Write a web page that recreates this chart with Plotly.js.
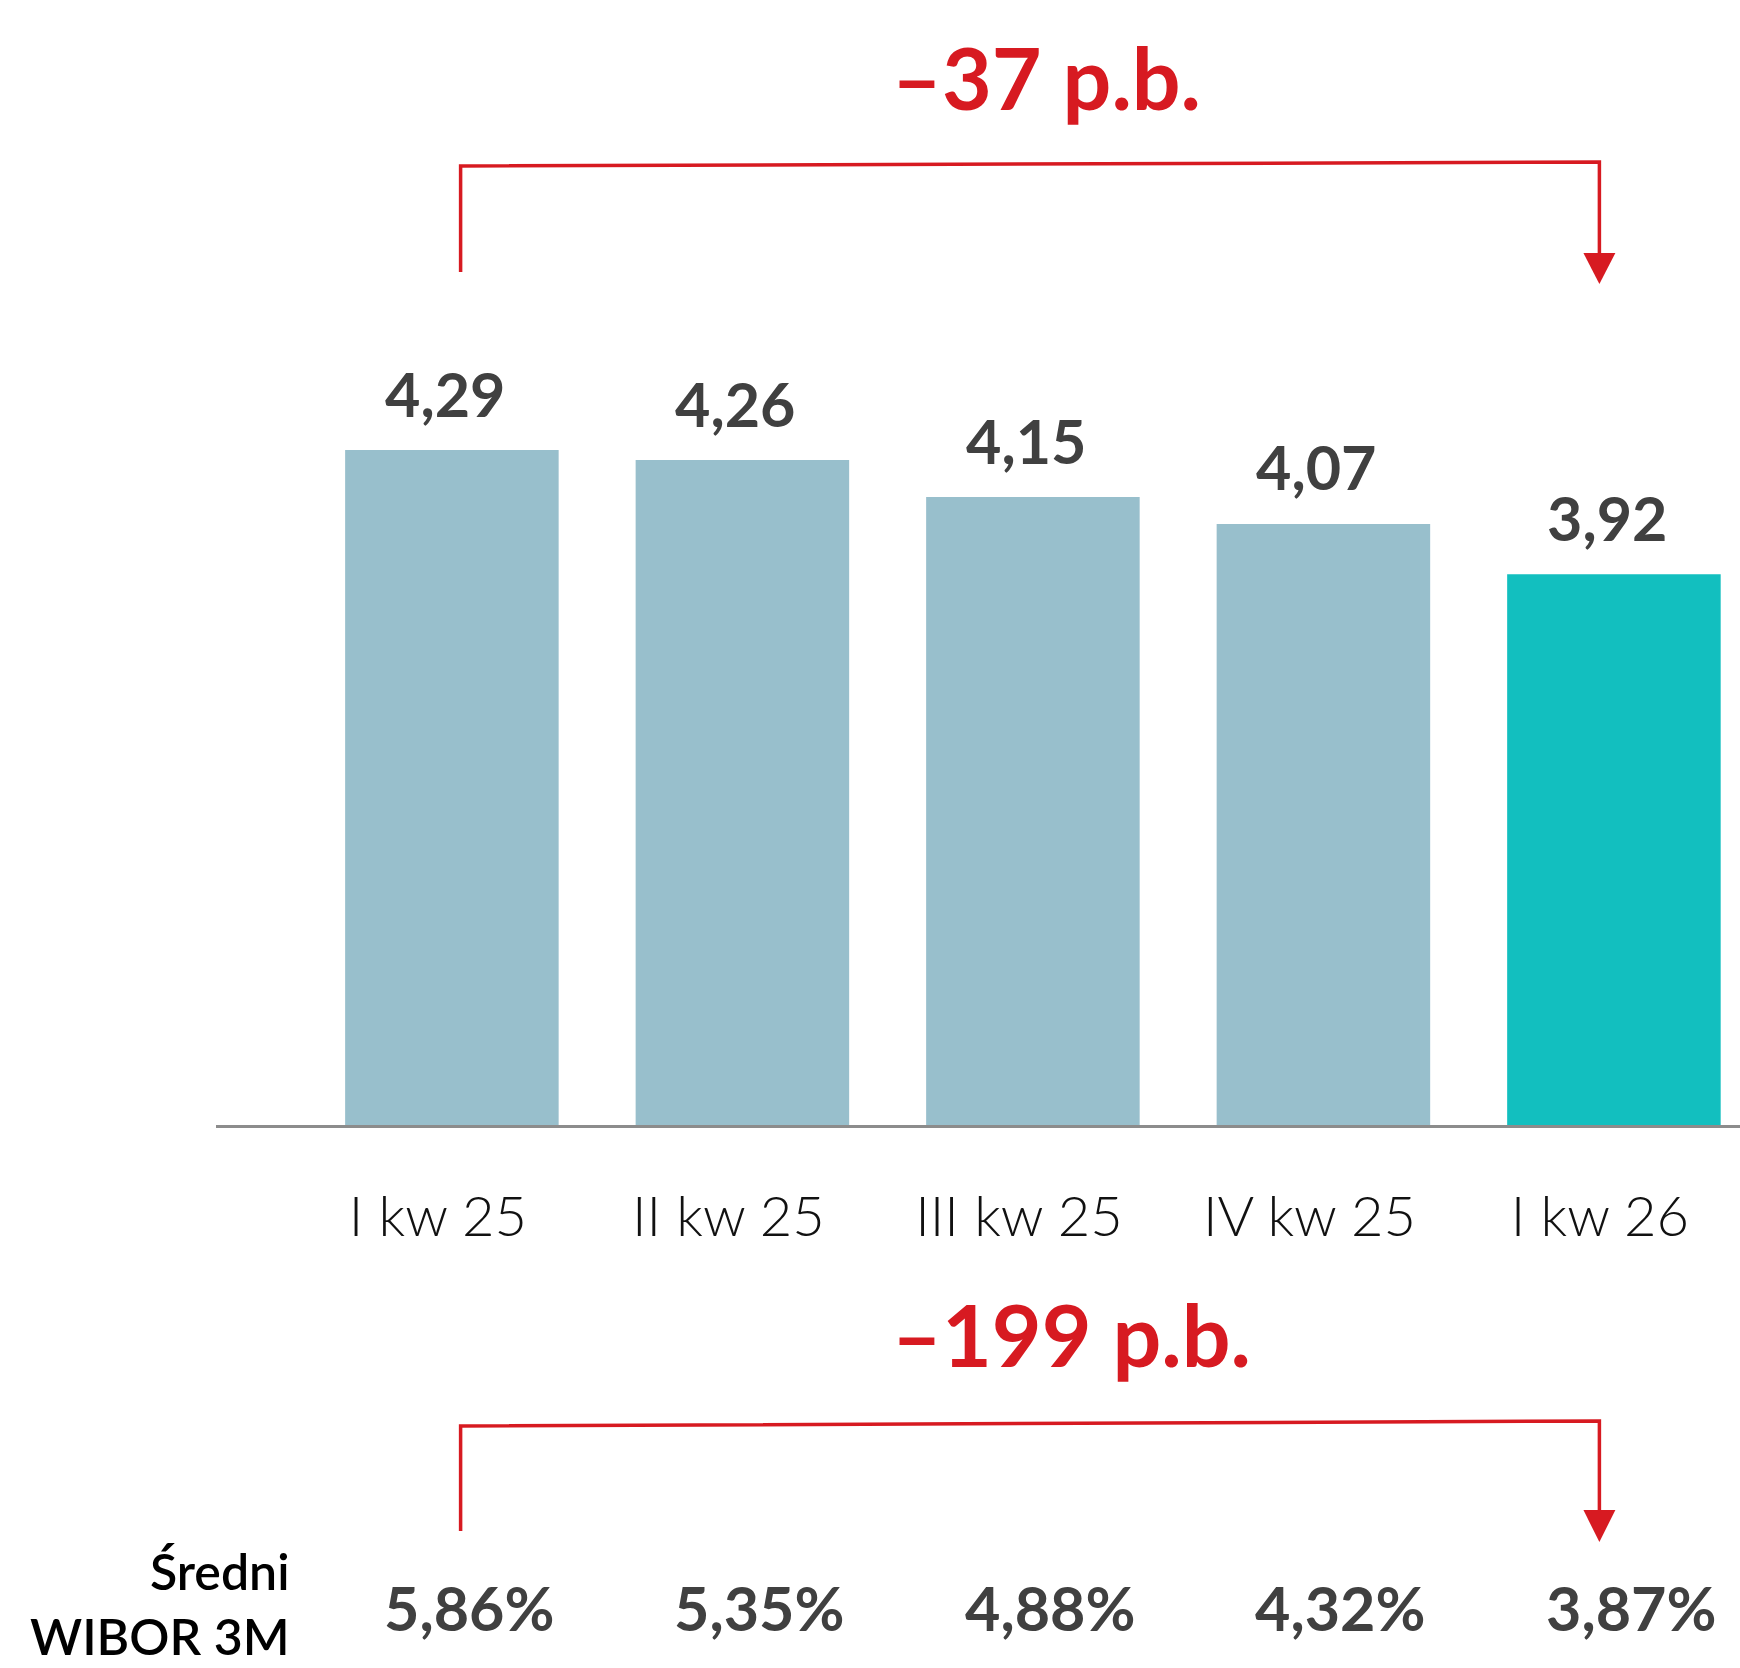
<!DOCTYPE html>
<html>
<head>
<meta charset="utf-8">
<script src="https://cdn.plot.ly/plotly-3.0.1.min.js"></script>
<style>html,body{margin:0;padding:0;background:#fff;}#chart{width:1740px;height:1668px;}</style>
</head>
<body>
<div id="chart"></div>
<script>
// ---- data ----
const categories = ['I kw 25', 'II kw 25', 'III kw 25', 'IV kw 25', 'I kw 26'];
const values = [4.29, 4.26, 4.15, 4.07, 3.92];
const wibor3m = [5.86, 5.35, 4.88, 4.32, 3.87];
const rowLabel = 'Średni<br>WIBOR 3M';
const changeTop = '–37 p.b.';
const changeBottom = '–199 p.b.';

// ---- styling ----
const W = 1740, H = 1668;
const M = {l: 216, r: 0, t: 0, b: 543};
const plotH = H - M.t - M.b;
const xr = [-0.812, 4.434];
const yr = [2.28, 5.63];
const RED = '#D71A21';
const GREY = '#404040';
const barColors = categories.map((c, i) => i === categories.length - 1 ? '#12BFBF' : '#98BFCC');
const fmt = v => v.toFixed(2).replace('.', ',');
const px2py = p => (plotH + M.t - p) / plotH;          // pixel row -> paper y
const px2pxp = p => (p - M.l) / (W - M.l - M.r);       // pixel column -> paper x
const cat2px = i => (i - xr[0]) / (xr[1] - xr[0]);     // category index -> paper x

const trace = {
  type: 'bar',
  x: categories,
  y: values,
  width: 0.735,
  marker: {color: barColors, line: {width: 0}},
  hoverinfo: 'skip'
};

const annotations = [];
values.forEach((v, i) => {
  annotations.push({
    x: categories[i], y: v, xref: 'x', yref: 'y',
    text: fmt(v), showarrow: false, yanchor: 'middle', yshift: 57, xshift: -7,
    font: {family: 'Lato, sans-serif', size: 61, weight: 700, color: GREY}
  });
});
wibor3m.forEach((v, i) => {
  annotations.push({
    x: categories[i], y: px2py(1607), xref: 'x', yref: 'paper',
    text: fmt(v) + '%', showarrow: false, yanchor: 'middle', xshift: 17,
    font: {family: 'Lato, sans-serif', size: 61, weight: 700, color: GREY}
  });
});
annotations.push({
  x: px2pxp(292), y: px2py(1603), xref: 'paper', yref: 'paper',
  xanchor: 'right', yanchor: 'middle', align: 'right', text: rowLabel, showarrow: false,
  font: {family: 'Lato, sans-serif', size: 50, weight: 600, color: '#000'}
});
annotations.push({
  x: px2pxp(890), y: px2py(76), xref: 'paper', yref: 'paper',
  xanchor: 'left', yanchor: 'middle', text: changeTop, showarrow: false,
  font: {family: 'Lato, sans-serif', size: 86, weight: 700, color: RED}
});
annotations.push({
  x: px2pxp(890), y: px2py(1333), xref: 'paper', yref: 'paper',
  xanchor: 'left', yanchor: 'middle', text: changeBottom, showarrow: false,
  font: {family: 'Lato, sans-serif', size: 86, weight: 700, color: RED}
});

function bracket(yBottomLeft, yTopLeft, yTopRight, yArrowBase, yTip) {
  const xl = cat2px(0.03), xrt = cat2px(3.95);
  const hw = 0.055 / (xr[1] - xr[0]);
  return [
    {type: 'path', xref: 'paper', yref: 'paper',
     path: `M ${xl} ${px2py(yBottomLeft)} L ${xl} ${px2py(yTopLeft)} L ${xrt} ${px2py(yTopRight)} L ${xrt} ${px2py(yArrowBase + 2)}`,
     line: {color: RED, width: 3.5}},
    {type: 'path', xref: 'paper', yref: 'paper',
     path: `M ${xrt - hw} ${px2py(yArrowBase)} L ${xrt + hw} ${px2py(yArrowBase)} L ${xrt} ${px2py(yTip)} Z`,
     fillcolor: RED, line: {color: RED, width: 0}}
  ];
}
const shapes = [].concat(
  bracket(272, 166, 162, 253, 284),
  bracket(1531, 1426, 1421, 1510, 1542)
);

const layout = {
  width: W, height: H,
  margin: M,
  paper_bgcolor: '#fff', plot_bgcolor: '#fff',
  showlegend: false,
  xaxis: {
    type: 'category', range: xr, fixedrange: true,
    showline: true, linecolor: '#8c8c8c', linewidth: 3,
    showgrid: false, zeroline: false, ticks: '',
    ticklabelstandoff: 41, ticklabelshift: -14,
    tickfont: {family: 'Lato, sans-serif', size: 56, weight: 300, color: '#111'}
  },
  yaxis: {range: yr, visible: false, fixedrange: true},
  annotations: annotations,
  shapes: shapes
};

Plotly.newPlot('chart', [trace], layout, {staticPlot: true, displayModeBar: false});
</script>
</body>
</html>
